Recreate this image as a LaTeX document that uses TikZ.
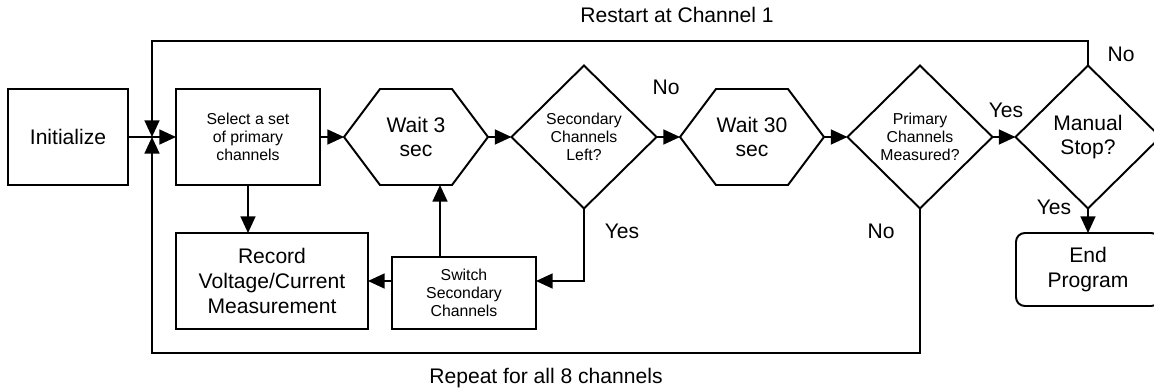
\documentclass[tikz,border=0pt]{standalone}
\usepackage{fontspec}
\setmainfont{Liberation Sans}
\usetikzlibrary{shapes.geometric,arrows.meta}

%% hexagonal frame round a (borderless) node
\newcommand\hexframe[1]{%
  \draw (#1.west) -- ([xshift=0.72cm]#1.north west) -- ([xshift=-0.72cm]#1.north east)
    -- (#1.east) -- ([xshift=-0.72cm]#1.south east) -- ([xshift=0.72cm]#1.south west) -- cycle;}

\begin{document}
\begin{tikzpicture}[x=0.02cm, y=-0.02cm, line width=1.1pt,
  font=\fontsize{12}{14}\selectfont,
  every node/.style={align=center, outer sep=0pt},
  box/.style={draw, minimum width=2.88cm, minimum height=1.92cm},
  small/.style={font=\fontsize{9}{10.2}\selectfont},
  decide/.style={draw, diamond, aspect=1, inner sep=0pt, minimum width=2.9cm, minimum height=2.86cm},
  hexa/.style={minimum width=2.88cm, minimum height=1.92cm},
  endbox/.style={draw, rounded corners=5pt, minimum width=2.88cm, minimum height=1.46cm},
  arr/.style={-{Triangle[length=9.5pt, width=8.5pt]}}]
  \useasboundingbox (0,0) rectangle (1154,392);
  %% main row
  \node[box, minimum width=2.4cm] (init) at (68,137) {Initialize};
  \node[box, small] (sel) at (248,137) {Select a set\\of primary\\channels};
  \node[hexa] (wait3) at (416,137) {Wait 3\\sec};
  \hexframe{wait3}
  \node[decide, small] (sec) at (584,137) {Secondary\\Channels\\Left?};
  \node[hexa] (wait30) at (752,137) {Wait 30\\sec};
  \hexframe{wait30}
  \node[decide, small] (prim) at (920,137) {Primary\\Channels\\Measured?};
  \node[decide] (manual) at (1088,137) {Manual\\Stop?};
  %% lower row
  \node[box, minimum width=3.84cm] (rec) at (272,281) {Record\\Voltage/Current\\Measurement};
  \node[box, small, minimum height=1.44cm] (switch) at (464,293) {Switch\\Secondary\\Channels};
  \node[endbox] (stop) at (1088,269.5) {End\\Program};
  %% loop corners
  \coordinate (jn) at (152,137);
  \coordinate (top) at (152,41);
  \coordinate (bot) at (152,353);
  %% arrows
  \draw[arr] (init.east) -- (sel.west);
  \draw[arr] (sel.east) -- (wait3.west);
  \draw[arr] (wait3.east) -- (sec.west);
  \draw[arr] (sec.east) -- (wait30.west);
  \draw[arr] (wait30.east) -- (prim.west);
  \draw[arr] (prim.east) -- (manual.west);
  \draw[arr] (manual.south) -- (stop.north);
  \draw[arr] (manual.north) |- (top) -- (jn);
  \draw[arr] (prim.south) |- (bot) -- (jn);
  \draw[arr] (sec.south) |- (switch.east |- rec.east);
  \draw[arr] (switch.west |- rec.east) -- (rec.east);
  \draw[arr] ([xshift=-0.48cm]switch.north) -- ([xshift=-0.48cm]switch.north |- wait3.south);
  \draw[arr] (sel.south) -- (sel.south |- rec.north);
  %% labels
  \node (lno1) at (666,87) {No};
  \node (lyes1) at (622,231) {Yes};
  \node (lyes2) at (1006,110) {Yes};
  \node (lno2) at (881,231) {No};
  \node (lno3) at (1121,54) {No};
  \node (lyes3) at (1054,207) {Yes};
  \node (restart) at (677,15) {Restart at Channel 1};
  \node (repeat) at (546,378) {Repeat for all 8 channels};
\end{tikzpicture}
\end{document}
